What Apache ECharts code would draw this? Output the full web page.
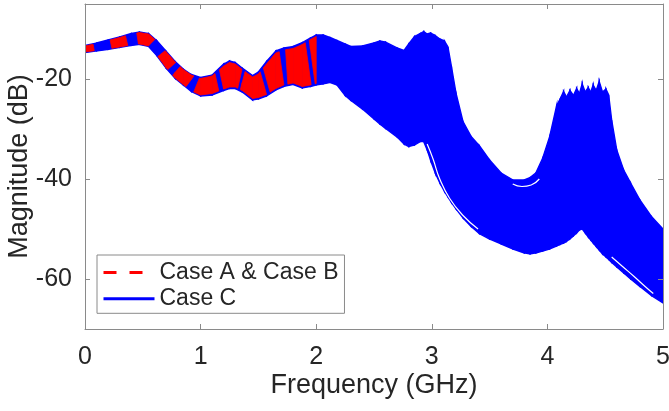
<!DOCTYPE html>
<html>
<head>
<meta charset="utf-8">
<script src="https://cdn.jsdelivr.net/npm/echarts@6/dist/echarts.min.js"></script>
<style>
html,body{margin:0;padding:0;background:#fff;}
#chart{width:669px;height:411px;}
</style>
</head>
<body>
<div id="chart"></div>
<script>
// ---- Data ----
const xTicks = [0, 1, 2, 3, 4, 5];
const yTicks = [-60, -40, -20];

// Case C envelope (GHz, dB)
const freqC = [0, 0.1, 0.2, 0.3, 0.4, 0.47, 0.55, 0.62, 0.7, 0.78, 0.85, 0.92, 1.0, 1.1, 1.2, 1.25, 1.3, 1.36, 1.45, 1.5, 1.57, 1.65, 1.72, 1.8, 1.88, 1.95, 2.0,
  2.06, 2.12, 2.18, 2.25, 2.3, 2.4, 2.5, 2.55, 2.6, 2.7, 2.76, 2.8, 2.85, 2.9, 2.93, 2.96, 2.99, 3.03, 3.07, 3.11, 3.14, 3.17, 3.21, 3.27, 3.34, 3.41,
  3.5, 3.6, 3.7, 3.8, 3.85, 3.9, 3.96, 4.02, 4.08, 4.11, 4.14, 4.165, 4.195, 4.225, 4.253, 4.277, 4.301, 4.327, 4.353, 4.375, 4.396, 4.422, 4.448,
  4.477, 4.506, 4.53, 4.556, 4.6, 4.66, 4.72, 4.8, 4.9, 5.0];
const caseCUpper = [-13.3, -12.8, -12.2, -11.6, -10.9, -10.6, -10.9, -12.3, -14.4, -16.5, -18.0, -19.1, -19.7, -19.2, -17.0, -16.4, -16.7, -17.8, -19.3, -18.6, -16.5, -14.4, -13.8, -13.5, -12.7, -11.8, -11.2,
  -11.2, -11.7, -12.3, -13.0, -13.5, -13.4, -12.8, -12.4, -12.6, -13.8, -14.3, -13.0, -11.5, -10.9, -10.5, -11.0, -10.8, -11.3, -12.0, -12.4, -13.6, -17.5, -22.9, -28.5, -31.5, -33.3,
  -36.2, -38.8, -40.2, -40.2, -39.7, -38.8, -35.8, -31.5, -25.3, -24.0, -22.5, -23.6, -22.3, -23.3, -21.9, -22.9, -21.0, -22.6, -21.7, -22.6, -21.2, -22.3, -20.5,
  -22.6, -22.0, -23.2, -28.2, -34.2, -38.2, -40.8, -44.2, -47.5, -50.0];
const caseCLower = [-14.7, -14.4, -14.1, -13.7, -13.3, -13.1, -13.5, -15.3, -17.8, -19.9, -21.2, -22.5, -23.4, -23.2, -22.3, -21.9, -21.9, -22.6, -24.2, -24.0, -23.4, -22.2, -21.5, -21.1, -21.8, -21.5, -21.2,
  -21.0, -20.7, -21.2, -23.3, -24.3, -26.0, -28.0, -29.0, -29.9, -31.6, -33.0, -33.5, -33.2, -32.5, -32.5, -34.2, -36.3, -38.8, -40.8, -42.5, -43.6, -44.7, -46.0, -47.8, -49.5, -50.9,
  -52.0, -53.0, -54.0, -54.8, -55.0, -54.8, -54.4, -54.0, -53.4, -53.1, -52.8, -52.5, -52.0, -51.4, -50.8, -50.2, -50.0, -50.8, -51.6, -52.2, -52.8, -53.5, -54.2,
  -55.0, -55.6, -56.1, -56.7, -57.6, -58.8, -60.0, -61.5, -63.3, -64.8];

// thin gaps between Case C curve families (GHz, dB)
const gapC1 = [[2.96, -33.0], [3.011, -36.0], [3.069, -40.0], [3.155, -43.9], [3.27, -47.3], [3.40, -50.0]];
const gapC2 = [[3.70, -41.0], [3.78, -41.5], [3.86, -41.2], [3.93, -40.0]];
const gapC3 = [[4.556, -55.6], [4.65, -57.5], [4.75, -59.5], [4.85, -61.6], [4.916, -62.9]];

// Case A & Case B envelope (GHz, dB)
const freqAB = [0, 0.1, 0.2, 0.3, 0.4, 0.47, 0.55, 0.62, 0.7, 0.78, 0.85, 0.92, 1.0, 1.1, 1.2, 1.25, 1.3, 1.36, 1.45, 1.5, 1.57, 1.65, 1.72, 1.8, 1.88, 1.95, 2.0];
const caseABUpper = [-13.4, -12.9, -12.3, -11.7, -11.0, -10.7, -11.0, -12.4, -14.5, -16.6, -18.1, -19.2, -19.9, -19.4, -17.4, -16.7, -17.0, -18.1, -19.6, -19.0, -17.0, -14.8, -14.2, -13.9, -13.1, -12.1, -11.5];
const caseABLower = [-14.6, -14.3, -14.0, -13.6, -13.2, -13.0, -13.4, -15.2, -17.7, -19.8, -21.1, -22.4, -23.2, -22.9, -22.0, -21.6, -21.6, -22.3, -23.9, -23.7, -23.1, -21.9, -21.2, -20.8, -21.5, -21.2, -20.9];

// dash stripes of the Case A & Case B bundle (GHz ranges where red shows)
const abStripes = [[0, 0.075], [0.225, 0.36], [0.455, 0.575], [0.66, 0.75], [0.79, 0.905], [0.965, 1.14], [1.18, 1.34], [1.365, 1.54], [1.57, 1.70], [1.745, 1.93], [1.965, 2.0]];

// ---- Build options ----
const RED = '#ff0000', BLUE = '#0000ff';
const TXT = '#262626', AX = '#8a8a8a';
const FONT = '"Liberation Sans", Arial, Helvetica, sans-serif';

function segments(freq, up, lo) {
  const out = [];
  for (let i = 0; i < freq.length - 1; i++) {
    out.push([freq[i], freq[i + 1], up[i], lo[i], up[i + 1], lo[i + 1]]);
  }
  return out;
}
const cSegs = segments(freqC, caseCUpper, caseCLower);
const abSegs = segments(freqAB, caseABUpper, caseABLower);

function quad(api) {
  const x0 = api.value(0), x1 = api.value(1);
  return [api.coord([x0, api.value(2)]), api.coord([x1, api.value(4)]),
          api.coord([x1, api.value(5)]), api.coord([x0, api.value(3)])];
}

function renderBlue(params, api) {
  return {
    type: 'polygon', shape: { points: quad(api) },
    style: { fill: BLUE, stroke: BLUE, lineWidth: 1.4 }
  };
}

// clip a polygon by half-plane (X - p) . d * sign >= 0
function clipHalf(poly, p, d, sign) {
  const out = [];
  const f = q => ((q[0] - p[0]) * d[0] + (q[1] - p[1]) * d[1]) * sign;
  for (let i = 0; i < poly.length; i++) {
    const a = poly[i], b = poly[(i + 1) % poly.length];
    const fa = f(a), fb = f(b);
    if (fa >= 0) out.push(a);
    if ((fa >= 0) !== (fb >= 0)) {
      const t = fa / (fa - fb);
      out.push([a[0] + (b[0] - a[0]) * t, a[1] + (b[1] - a[1]) * t]);
    }
  }
  return out;
}

// stripe boundary: point on band centre line at frequency s and (partly) local direction of the band (pixels)
function boundary(api, s) {
  let k = 0;
  while (k < freqAB.length - 2 && freqAB[k + 1] < s) k++;
  const c0 = api.coord([freqAB[k], (caseABUpper[k] + caseABLower[k]) / 2]);
  const c1 = api.coord([freqAB[k + 1], (caseABUpper[k + 1] + caseABLower[k + 1]) / 2]);
  const px = api.coord([s, 0])[0];
  const t = (px - c0[0]) / (c1[0] - c0[0]);
  const p = [c0[0] + (c1[0] - c0[0]) * t, c0[1] + (c1[1] - c0[1]) * t];
  const slant = s < 1.0 ? 1 : 0.35;
  const dx = c1[0] - c0[0], dy = (c1[1] - c0[1]) * slant;
  const len = Math.hypot(dx, dy);
  return { p: p, d: [dx / len, dy / len] };
}

function renderRed(params, api) {
  const q = quad(api);
  const children = [];
  abStripes.forEach(s => {
    let poly = q;
    if (s[0] > freqAB[0]) {
      const b0 = boundary(api, s[0]);
      poly = clipHalf(poly, b0.p, b0.d, 1);
    }
    if (poly.length >= 3 && s[1] < freqAB[freqAB.length - 1]) {
      const b1 = boundary(api, s[1]);
      poly = clipHalf(poly, b1.p, b1.d, -1);
    }
    if (poly.length >= 3) {
      children.push({ type: 'polygon', shape: { points: poly }, style: { fill: RED, stroke: RED, lineWidth: 0.8 } });
    }
  });
  return { type: 'group', children: children };
}

const chart = echarts.init(document.getElementById('chart'), null, { renderer: 'canvas' });
const axisLineStyle = { color: AX, width: 1 };
const gapSeries = (name, data) => ({
  name: name, type: 'line', data: data, smooth: true, symbol: 'none', z: 2.5, silent: true,
  lineStyle: { color: '#ffffff', width: 1.2 }
});

chart.setOption({
  animation: false,
  backgroundColor: '#fff',
  textStyle: { fontFamily: FONT },
  grid: { left: 85, top: 4, width: 578, height: 325, containLabel: false, outerBoundsMode: 'none' },
  xAxis: [{
    type: 'value', min: 0, max: 5, interval: 1, position: 'bottom', z: 10,
    name: 'Frequency (GHz)', nameLocation: 'middle', nameGap: 43, nameMoveOverlap: false,
    nameTextStyle: { fontSize: 27, color: TXT, fontFamily: FONT },
    axisLine: { show: true, onZero: false, lineStyle: axisLineStyle },
    axisTick: { show: true, inside: true, length: 5, lineStyle: axisLineStyle, customValues: xTicks },
    axisLabel: { fontSize: 25, color: TXT, margin: 16, fontFamily: FONT, customValues: xTicks },
    splitLine: { show: false }
  }, {
    type: 'value', min: 0, max: 5, interval: 1, position: 'top', z: 10,
    axisLine: { show: true, onZero: false, lineStyle: axisLineStyle },
    axisTick: { show: true, inside: true, length: 5, lineStyle: axisLineStyle, customValues: xTicks },
    axisLabel: { show: false },
    splitLine: { show: false }
  }],
  yAxis: [{
    type: 'value', min: -70, max: -5, position: 'left', z: 10,
    name: 'Magnitude (dB)', nameLocation: 'middle', nameGap: 52, nameRotate: 90, nameMoveOverlap: false,
    nameTextStyle: { fontSize: 27, color: TXT, fontFamily: FONT },
    axisLine: { show: true, onZero: false, lineStyle: axisLineStyle },
    axisTick: { show: true, inside: true, length: 5, lineStyle: axisLineStyle, customValues: yTicks },
    axisLabel: { fontSize: 25, color: TXT, margin: 13, fontFamily: FONT, customValues: yTicks },
    splitLine: { show: false }
  }, {
    type: 'value', min: -70, max: -5, position: 'right', z: 10,
    axisLine: { show: true, onZero: false, lineStyle: axisLineStyle },
    axisTick: { show: true, inside: true, length: 5, lineStyle: axisLineStyle, customValues: yTicks },
    axisLabel: { show: false },
    splitLine: { show: false }
  }],
  legend: {
    orient: 'vertical', left: 97, top: 255,
    padding: [6, 6, 3, 5], itemGap: 3.3, itemWidth: 51, itemHeight: 24,
    backgroundColor: '#fff', borderColor: AX, borderWidth: 1,
    textStyle: { fontSize: 23, color: TXT, fontFamily: FONT },
    selectedMode: false,
    data: [
      { name: 'Case A & Case B', lineStyle: { color: RED, width: 3, type: [13, 13] }, itemStyle: { color: 'rgba(0,0,0,0)', borderWidth: 0 } },
      { name: 'Case C', lineStyle: { color: BLUE, width: 3, type: 'solid' }, itemStyle: { color: 'rgba(0,0,0,0)', borderWidth: 0 } }
    ]
  },
  series: [
    {
      name: 'Case C band', type: 'custom', renderItem: renderBlue, data: cSegs,
      encode: { x: [0, 1], y: [2, 3, 4, 5] }, clip: true, z: 2, silent: true,
      itemStyle: { color: BLUE }
    },
    gapSeries('gap1', gapC1),
    gapSeries('gap2', gapC2),
    gapSeries('gap3', gapC3),
    {
      name: 'Case A & Case B band', type: 'custom', renderItem: renderRed, data: abSegs,
      encode: { x: [0, 1], y: [2, 3, 4, 5] }, clip: true, z: 3, silent: true,
      itemStyle: { color: RED }
    },
    { name: 'Case A & Case B', type: 'line', data: [], symbol: 'none', lineStyle: { color: RED, type: [13, 13], width: 3 }, itemStyle: { color: RED } },
    { name: 'Case C', type: 'line', data: [], symbol: 'none', lineStyle: { color: BLUE, width: 3 }, itemStyle: { color: BLUE } }
  ]
});
</script>
</body>
</html>
